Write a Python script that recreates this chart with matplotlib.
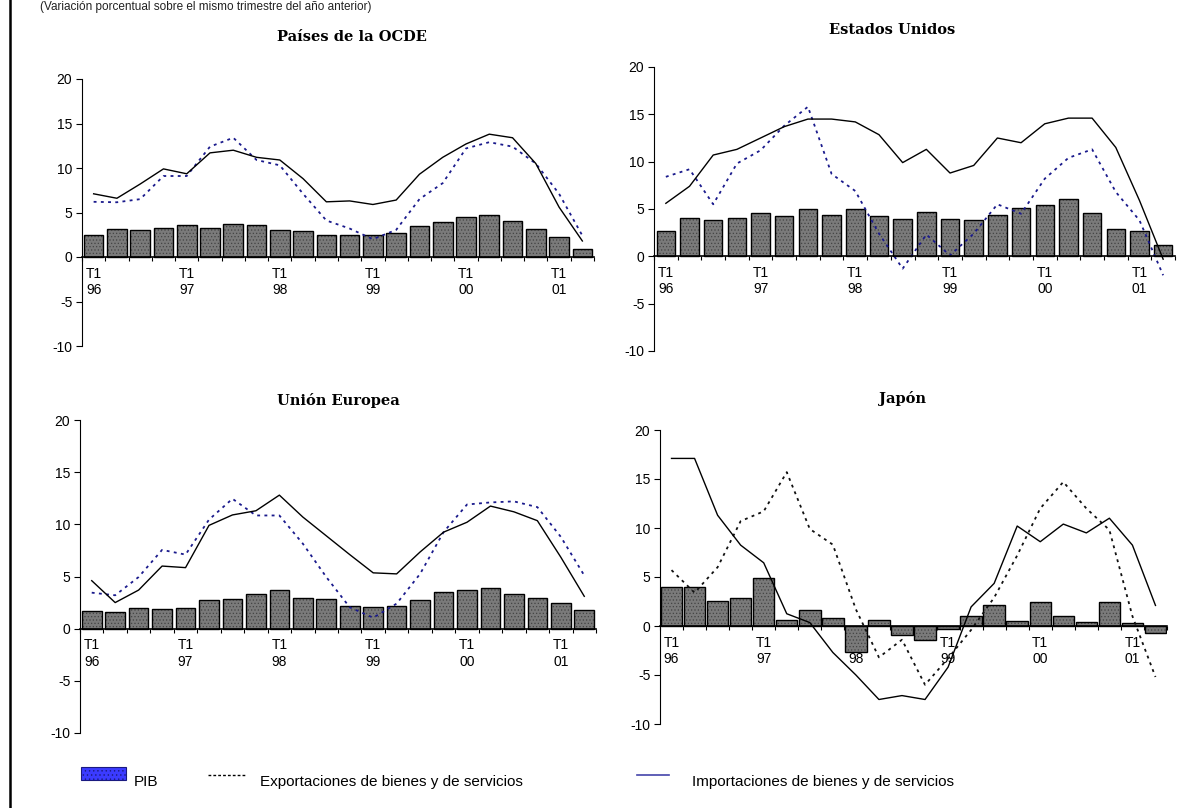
import matplotlib
matplotlib.use("Agg")
import matplotlib.pyplot as plt
from matplotlib.patches import Rectangle
from matplotlib.lines import Line2D
import numpy as np

plt.rcParams['font.family'] = ['Liberation Sans', 'DejaVu Sans']
plt.rcParams['hatch.linewidth'] = 0.5

# ---------------- data ----------------
quarters = ['T1 96', 'T2 96', 'T3 96', 'T4 96', 'T1 97', 'T2 97', 'T3 97', 'T4 97',
            'T1 98', 'T2 98', 'T3 98', 'T4 98', 'T1 99', 'T2 99', 'T3 99', 'T4 99',
            'T1 00', 'T2 00', 'T3 00', 'T4 00', 'T1 01', 'T2 01']
tick_labels = ['T1\n96', 'T1\n97', 'T1\n98', 'T1\n99', 'T1\n00', 'T1\n01']

ocde_pib = [2.5, 3.2, 3.05, 3.3, 3.6, 3.3, 3.75, 3.6, 3.05, 2.9, 2.45, 2.45, 2.45, 2.75,
            3.45, 3.9, 4.5, 4.75, 4.05, 3.15, 2.2, 0.9]
ocde_solid = [7.1, 6.6, 8.2, 9.9, 9.35, 11.7, 12.0, 11.2, 10.9, 8.8, 6.2, 6.3, 5.9, 6.4,
              9.3, 11.2, 12.7, 13.8, 13.4, 10.5, 5.6, 1.8]
ocde_dotted = [6.2, 6.15, 6.5, 9.1, 9.1, 12.4, 13.4, 10.9, 10.3, 7.1, 4.1, 3.2, 2.0, 3.05,
               6.5, 8.3, 12.2, 12.9, 12.4, 10.5, 7.1, 2.4]

eeuu_pib = [2.7, 4.1, 3.85, 4.1, 4.55, 4.25, 4.95, 4.4, 4.95, 4.25, 3.95, 4.7, 3.95, 3.85,
            4.4, 5.1, 5.4, 6.1, 4.55, 2.9, 2.7, 1.25]
eeuu_solid = [5.6, 7.4, 10.7, 11.3, 12.5, 13.7, 14.5, 14.5, 14.2, 12.85, 9.9, 11.3, 8.8, 9.6,
              12.5, 12.0, 14.0, 14.6, 14.6, 11.5, 5.9, -0.3]
eeuu_dotted = [8.4, 9.2, 5.5, 9.8, 11.2, 13.8, 15.8, 8.7, 6.9, 2.4, -1.3, 2.3, 0.1, 2.4,
               5.5, 4.5, 8.2, 10.4, 11.3, 6.8, 3.8, -2.0]

ue_pib = [1.65, 1.55, 2.0, 1.85, 2.0, 2.7, 2.85, 3.35, 3.7, 2.95, 2.85, 2.2, 2.1, 2.2,
          2.7, 3.55, 3.7, 3.9, 3.35, 2.95, 2.5, 1.75]
ue_solid = [4.6, 2.5, 3.7, 6.0, 5.85, 9.9, 10.9, 11.3, 12.8, 10.7, 8.9, 7.1, 5.35, 5.25,
            7.35, 9.25, 10.2, 11.75, 11.2, 10.35, 6.85, 3.1]
ue_dotted = [3.45, 3.2, 4.95, 7.55, 7.1, 10.45, 12.45, 10.85, 10.85, 8.15, 4.95, 2.05, 1.05, 2.4,
             5.25, 9.25, 11.9, 12.1, 12.2, 11.65, 8.8, 5.1]

japon_pib = [3.95, 4.0, 2.6, 2.85, 4.85, 0.65, 1.6, 0.8, -2.65, 0.65, -0.9, -1.4, -0.35, 1.05,
             2.1, 0.55, 2.4, 1.05, 0.4, 2.5, 0.35, -0.7]
japon_solid = [17.1, 17.1, 11.3, 8.25, 6.45, 1.25, 0.35, -2.7, -5.0, -7.5, -7.1, -7.5, -4.2, 1.95,
               4.35, 10.2, 8.6, 10.4, 9.5, 11.0, 8.25, 2.1]
japon_dotted = [5.7, 3.4, 6.0, 10.7, 11.7, 15.7, 9.9, 8.3, 1.7, -3.2, -1.4, -6.0, -3.3, -0.4,
                2.9, 7.2, 12.0, 14.7, 12.0, 9.8, 1.0, -5.2]

titles = ['Países de la OCDE', 'Estados Unidos', 'Unión Europea', 'Japón']
legend_labels = ['PIB', 'Exportaciones de bienes y de servicios',
                 'Importaciones de bienes y de servicios']
subtitle = '(Variación porcentual sobre el mismo trimestre del año anterior)'
yticks = [-10, -5, 0, 5, 10, 15, 20]

# ---------------- figure ----------------
W, H = 1198, 808
fig = plt.figure(figsize=(W / 100, H / 100), dpi=100)


def rect(x0, x1, ytop, ybot):
    return [x0 / W, 1 - ybot / H, (x1 - x0) / W, (ybot - ytop) / H]


panels = [
    dict(r=rect(82, 594, 79, 346), pib=ocde_pib, solid=ocde_solid, dotted=ocde_dotted,
         dcol='#1a1a8c', bw=0.84, title=titles[0], tx=352, ty=37),
    dict(r=rect(654, 1175, 67, 351), pib=eeuu_pib, solid=eeuu_solid, dotted=eeuu_dotted,
         dcol='#1a1a8c', bw=0.78, title=titles[1], tx=892, ty=30),
    dict(r=rect(80, 596, 420, 733), pib=ue_pib, solid=ue_solid, dotted=ue_dotted,
         dcol='#1a1a8c', bw=0.84, title=titles[2], tx=338, ty=400),
    dict(r=rect(660, 1167, 430, 724), pib=japon_pib, solid=japon_solid, dotted=japon_dotted,
         dcol='#111111', bw=0.93, title=titles[3], tx=903, ty=398),
]

x = np.arange(len(quarters))
for p in panels:
    ax = fig.add_axes(p['r'])
    ax.bar(x, p['pib'], width=p['bw'], color='#7a7a7a', edgecolor='#444444',
           hatch='.....', linewidth=0, zorder=2)
    ax.bar(x, p['pib'], width=p['bw'], fill=False, edgecolor='black',
           linewidth=1.0, zorder=3)
    ax.plot(x, p['solid'], color='black', linewidth=1.0, zorder=5)
    ax.plot(x, p['dotted'], color=p['dcol'], linewidth=1.3, dashes=(1.6, 2.4), zorder=4)

    ax.set_xlim(-0.5, len(quarters) - 0.5)
    ax.set_ylim(-10, 20)
    ax.set_yticks(yticks)
    ax.set_yticklabels([str(v) for v in yticks])
    ax.tick_params(axis='y', direction='out', length=4, width=0.8, pad=3,
                   labelsize=10, colors='black')
    ax.set_xticks(np.arange(0, len(quarters), 4))
    ax.set_xticklabels(tick_labels, fontsize=8, linespacing=1.45)
    ax.set_xticks(np.arange(-0.5, len(quarters), 1), minor=True)
    ax.tick_params(axis='x', which='major', length=0, pad=7)
    ax.tick_params(axis='x', which='minor', direction='out', length=3, width=0.8)
    for s in ['top', 'right']:
        ax.spines[s].set_visible(False)
    ax.spines['bottom'].set_position(('data', 0))
    ax.spines['bottom'].set_linewidth(1.2)
    ax.spines['left'].set_linewidth(0.8)
    ax.spines['bottom'].set_zorder(6)
    ax.patch.set_alpha(0)

    fig.text(p['tx'] / W, 1 - p['ty'] / H, p['title'], ha='center', va='center',
             fontsize=10.5, fontweight='bold', family='DejaVu Serif')

# left frame line
fig.add_artist(Line2D([9.5 / W, 9.5 / W], [0, 1], color='black', linewidth=1.8))

# subtitle at the very top
fig.text(40 / W, 1 - 1 / H, subtitle, ha='left', va='top', fontsize=8.5, color='#222222')

# legend
fig.add_artist(Rectangle((81 / W, 1 - 780 / H), 45 / W, 13 / H, facecolor='#3b3bff',
                         edgecolor='#1a1a80', hatch='....', linewidth=0.8,
                         transform=fig.transFigure))
fig.text(134 / W, 1 - 782 / H, legend_labels[0], ha='left', va='center', fontsize=11)
fig.add_artist(Line2D([208 / W, 246 / W], [1 - 775 / H] * 2, color='black',
                      linewidth=1.0, dashes=(2, 1.5)))
fig.text(260 / W, 1 - 782 / H, legend_labels[1], ha='left', va='center', fontsize=11)
fig.add_artist(Line2D([637 / W, 669 / W], [1 - 775 / H] * 2, color='#4444aa',
                      linewidth=1.2))
fig.text(692 / W, 1 - 782 / H, legend_labels[2], ha='left', va='center', fontsize=11)

fig.savefig('out.png', dpi=100)
